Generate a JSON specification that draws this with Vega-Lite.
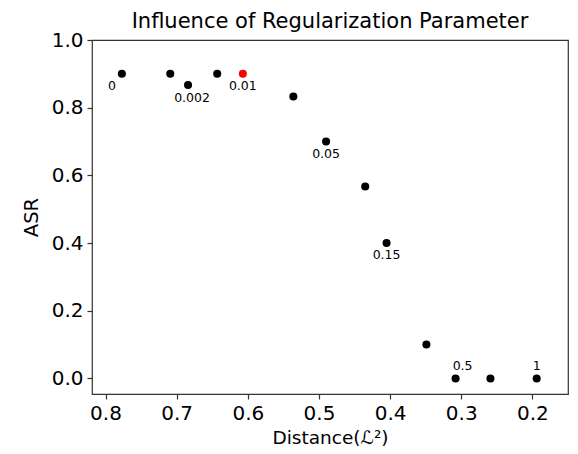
{
  "$schema": "https://vega.github.io/schema/vega-lite/v6.json",
  "width": 476,
  "height": 354,
  "autosize": {"type": "none"},
  "padding": {"left": 92, "top": 40, "right": 10, "bottom": 60},
  "background": "white",
  "title": {"text": "Influence of Regularization Parameter", "font": "DejaVu Sans", "fontSize": 21, "fontWeight": "normal", "color": "#000000", "offset": -2},
  "config": {
    "view": {"stroke": "#333333", "strokeWidth": 1.2},
    "axis": {"grid": false, "domain": false, "tickColor": "#333333", "tickSize": 5, "tickWidth": 1.2, "labelFont": "DejaVu Sans", "labelFontSize": 20, "labelColor": "#000000", "titleFont": "DejaVu Sans", "titleFontSize": 18.5, "titleFontWeight": "normal", "titleColor": "#000000", "labelPadding": 4}
  },
  "data": {"values": [
    {"distance": 0.777, "asr": 0.9, "lambda": "0"},
    {"distance": 0.709, "asr": 0.9, "lambda": null},
    {"distance": 0.684, "asr": 0.867, "lambda": "0.002"},
    {"distance": 0.643, "asr": 0.9, "lambda": null},
    {"distance": 0.607, "asr": 0.9, "lambda": "0.01"},
    {"distance": 0.536, "asr": 0.833, "lambda": null},
    {"distance": 0.490, "asr": 0.7, "lambda": "0.05"},
    {"distance": 0.435, "asr": 0.567, "lambda": null},
    {"distance": 0.405, "asr": 0.4, "lambda": "0.15"},
    {"distance": 0.349, "asr": 0.1, "lambda": null},
    {"distance": 0.308, "asr": 0.0, "lambda": "0.5"},
    {"distance": 0.259, "asr": 0.0, "lambda": null},
    {"distance": 0.194, "asr": 0.0, "lambda": "1"}
  ]},
  "encoding": {
    "x": {"field": "distance", "type": "quantitative", "scale": {"domain": [0.15, 0.819], "reverse": true, "nice": false, "zero": false},
      "axis": {"values": [0.2, 0.3, 0.4, 0.5, 0.6, 0.7, 0.8], "format": ".1f", "title": "Distance(ℒ²)", "titlePadding": 5}},
    "y": {"field": "asr", "type": "quantitative", "scale": {"domain": [-0.046, 1.0], "nice": false, "zero": false},
      "axis": {"values": [0, 0.2, 0.4, 0.6, 0.8, 1.0], "format": ".1f", "title": "ASR", "titleFontSize": 19.5, "titlePadding": 10}}
  },
  "layer": [
    {"mark": {"type": "point", "filled": true, "size": 65, "opacity": 1},
     "encoding": {"color": {"condition": {"test": "datum.lambda === '0.01'", "value": "#ff0000"}, "value": "#000000"}}},
    {"transform": [{"filter": "datum.lambda === '0.01' || datum.lambda === '0.05' || datum.lambda === '0.15'"}],
     "mark": {"type": "text", "font": "DejaVu Sans", "fontSize": 12.5, "dy": 12, "color": "#000000"},
     "encoding": {"text": {"field": "lambda"}}},
    {"transform": [{"filter": "datum.lambda === '0'"}],
     "mark": {"type": "text", "font": "DejaVu Sans", "fontSize": 12.5, "dy": 12, "dx": -10, "color": "#000000"},
     "encoding": {"text": {"field": "lambda"}}},
    {"transform": [{"filter": "datum.lambda === '0.002'"}],
     "mark": {"type": "text", "font": "DejaVu Sans", "fontSize": 12.5, "dy": 12.5, "dx": 4, "color": "#000000"},
     "encoding": {"text": {"field": "lambda"}}},
    {"transform": [{"filter": "datum.lambda === '0.5'"}],
     "mark": {"type": "text", "font": "DejaVu Sans", "fontSize": 12.5, "dy": -12, "dx": 7, "color": "#000000"},
     "encoding": {"text": {"field": "lambda"}}},
    {"transform": [{"filter": "datum.lambda === '1'"}],
     "mark": {"type": "text", "font": "DejaVu Sans", "fontSize": 12.5, "dy": -12, "color": "#000000"},
     "encoding": {"text": {"field": "lambda"}}}
  ]
}
